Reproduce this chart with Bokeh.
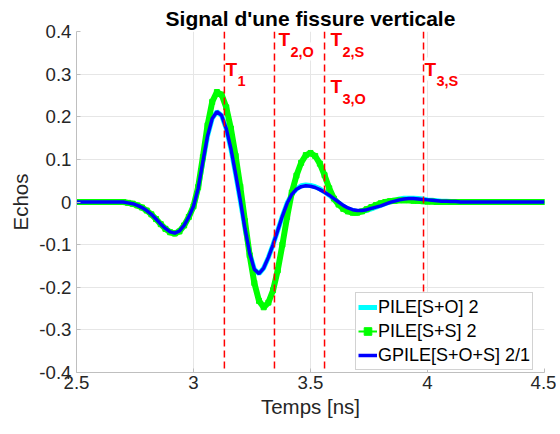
import numpy as np
from bokeh.plotting import figure
from bokeh.models import (Range1d, FixedTicker, Span, Title, Legend,
                          LegendItem, ColumnDataSource)
from bokeh.core.properties import value
from bokeh.embed import file_html
from bokeh.resources import INLINE

FONT = "Liberation Sans"

# ---------------- data ----------------
time_ns = np.linspace(2.5, 4.5, 101)   # 0.02 ns grid

pile_ss = ([0.0] * 11 + [
    -0.002, -0.004, -0.008, -0.013, -0.020, -0.029, -0.040, -0.052, -0.063, -0.071,
    -0.074, -0.069, -0.055, -0.035, -0.010, 0.035, 0.105, 0.180, 0.235, 0.258,
    0.252, 0.222, 0.172, 0.108, 0.036, -0.045, -0.125, -0.190, -0.232, -0.247,
    -0.236, -0.207, -0.160, -0.100, -0.035, 0.022, 0.062, 0.092, 0.110, 0.115,
    0.108, 0.090, 0.063, 0.032, 0.008, -0.006, -0.016, -0.022, -0.025, -0.025,
    -0.022, -0.017, -0.012, -0.007, -0.003, 0.000, 0.002, 0.003, 0.004, 0.004,
    0.004, 0.003, 0.003, 0.002, 0.001, 0.001]
    + [0.0] * 24)

gpile_sos = ([0.0] * 11 + [
    -0.002, -0.004, -0.008, -0.013, -0.020, -0.029, -0.040, -0.052, -0.062, -0.070,
    -0.073, -0.068, -0.055, -0.035, -0.010, 0.032, 0.095, 0.155, 0.196, 0.212,
    0.203, 0.172, 0.125, 0.066, 0.004, -0.062, -0.120, -0.158, -0.168, -0.155,
    -0.130, -0.100, -0.067, -0.033, -0.003, 0.018, 0.030, 0.036, 0.038, 0.037,
    0.034, 0.029, 0.023, 0.016, 0.008, 0.000, -0.008, -0.014, -0.018, -0.020,
    -0.020, -0.018, -0.015, -0.012, -0.009, -0.005, -0.001, 0.002, 0.005, 0.007,
    0.008, 0.008, 0.007, 0.006, 0.005, 0.004]
    + [0.003, 0.002, 0.002, 0.001, 0.001] + [0.0] * 19)

pile_so = ([0.0] * 11 + [
    -0.002, -0.004, -0.008, -0.013, -0.020, -0.029, -0.040, -0.052, -0.062, -0.070,
    -0.073, -0.068, -0.055, -0.035, -0.010, 0.032, 0.095, 0.155, 0.196, 0.212,
    0.203, 0.172, 0.125, 0.066, 0.004, -0.062, -0.120, -0.158, -0.168, -0.155,
    -0.130, -0.100, -0.067, -0.033, -0.003, 0.018, 0.031, 0.038, 0.040, 0.039,
    0.036, 0.031, 0.024, 0.016, 0.007, -0.002, -0.010, -0.016, -0.020, -0.022,
    -0.022, -0.020, -0.016, -0.012, -0.008, -0.004, 0.000, 0.004, 0.007, 0.009,
    0.009, 0.009, 0.008, 0.007, 0.005, 0.004]
    + [0.003, 0.002, 0.002, 0.001, 0.001] + [0.0] * 19)

series_labels = ["PILE[S+O] 2", "PILE[S+S] 2", "GPILE[S+O+S] 2/1"]

x_ticks = [2.5, 3.0, 3.5, 4.0, 4.5]
x_tick_labels = ["2.5", "3", "3.5", "4", "4.5"]
y_ticks = [-0.4, -0.3, -0.2, -0.1, 0.0, 0.1, 0.2, 0.3, 0.4]
y_tick_labels = ["-0.4", "-0.3", "-0.2", "-0.1", "0", "0.1", "0.2", "0.3", "0.4"]

marker_times = [3.132, 3.346, 3.560, 3.983]
label_main = ["T", "T", "T", "T", "T"]
label_sub = ["1", "2,O", "2,S", "3,O", "3,S"]
label_x = [3.133, 3.359, 3.581, 3.581, 3.983]
label_y = [0.312, 0.381, 0.381, 0.270, 0.312]

title_text = "Signal d'une fissure verticale"
x_label = "Temps [ns]"
y_label = "Echos"

# ---------------- figure ----------------
p = figure(width=556, height=430, output_backend="svg", toolbar_location=None,
           x_range=Range1d(x_ticks[0], x_ticks[-1]),
           y_range=Range1d(y_ticks[0], y_ticks[-1]),
           min_border_left=76, min_border_right=12,
           min_border_top=31, min_border_bottom=58)
p.title = Title(text=title_text, align="center", text_font=FONT,
                text_font_size="21px", text_font_style="bold",
                text_color="#000000", standoff=4, offset=0)
p.outline_line_color = None
p.background_fill_color = "white"
p.border_fill_color = "white"

for ax in (p.xaxis[0], p.yaxis[0]):
    ax.axis_line_color = "#bfbfbf"
    ax.major_tick_line_color = "#bfbfbf"
    ax.major_tick_in = 4
    ax.major_tick_out = 0
    ax.minor_tick_line_color = None
    ax.major_label_text_font = FONT
    ax.major_label_text_font_size = "18.67px"
    ax.major_label_text_color = "#262626"
    ax.axis_label_text_font = FONT
    ax.axis_label_text_font_size = "20.5px"
    ax.axis_label_text_font_style = "normal"
    ax.axis_label_text_color = "#262626"

p.xaxis.ticker = FixedTicker(ticks=x_ticks)
p.xaxis.major_label_overrides = dict(zip(x_ticks, x_tick_labels))
p.yaxis.ticker = FixedTicker(ticks=y_ticks)
p.yaxis.major_label_overrides = dict(zip(y_ticks, y_tick_labels))
p.xaxis.axis_label = x_label
p.yaxis.axis_label = y_label
p.xaxis.major_label_standoff = 3
p.yaxis.major_label_standoff = 5
p.xaxis.axis_label_standoff = 3
p.yaxis.axis_label_standoff = 4

p.grid.grid_line_color = "#e6e6e6"
p.grid.grid_line_width = 1

r_cyan = p.line(time_ns, pile_so, line_color="#00ffff", line_width=5)
p.line(time_ns, pile_ss, line_color="#00ff00", line_width=6)
r_green = p.line(time_ns, pile_ss, line_color="#00ff00", line_width=2)
r_green_mk = p.scatter(time_ns, pile_ss, marker="square", size=5,
                       fill_color="#00ff00", line_color="#00ff00")
r_blue = p.line(time_ns, gpile_sos, line_color="#0000ff", line_width=3.5)

for t in marker_times:
    p.add_layout(Span(location=t, dimension="height", line_color="#ff0000",
                      line_dash="7 4", line_width=1.5))

src = ColumnDataSource(dict(x=label_x, y=label_y, main=label_main, sub=label_sub))
p.text(x="x", y="y", text="sub", source=src, x_offset=12, y_offset=12,
       text_font=value(FONT), text_font_size="14.5px", text_font_style="bold",
       text_color="#ff0000", text_baseline="alphabetic", text_align="left",
       background_fill_color="white", padding=1)
p.text(x="x", y="y", text="main", source=src,
       text_font=value(FONT), text_font_size="19px", text_font_style="bold",
       text_color="#ff0000", text_baseline="alphabetic", text_align="left",
       background_fill_color="white", padding=1)

legend = Legend(items=[LegendItem(label=series_labels[0], renderers=[r_cyan]),
                       LegendItem(label=series_labels[1], renderers=[r_green, r_green_mk]),
                       LegendItem(label=series_labels[2], renderers=[r_blue])],
                location=(279, 2), padding=2, spacing=0, margin=0,
                glyph_width=19, glyph_height=24, label_height=24, label_standoff=1,
                label_text_font=FONT, label_text_font_size="18px",
                label_text_color="#000000", border_line_color="#a6a6a6",
                background_fill_color="white", background_fill_alpha=1.0)
p.add_layout(legend)

open("out.html", "w").write(file_html(p, INLINE))
